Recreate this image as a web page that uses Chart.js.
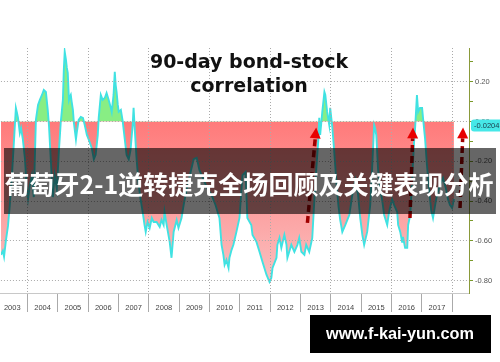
<!DOCTYPE html>
<html><head><meta charset="utf-8">
<script src="https://cdn.jsdelivr.net/npm/chart.js@4.4.0/dist/chart.umd.min.js"></script>
<style>html,body{margin:0;padding:0;background:#fff;overflow:hidden}canvas{display:block}</style>
</head><body>
<canvas id="c" width="500" height="362"></canvas>
<script>
// ---- data (decimal years, 90-day bond-stock correlation) ----
const years = [
2003.13,2003.19,2003.23,2003.29,2003.36,2003.42,2003.49,2003.56,2003.62,2003.65,2003.69,2003.75,2003.79,2003.85,2003.92,2003.98,
2004.02,2004.08,2004.15,2004.21,2004.28,2004.35,2004.41,2004.48,2004.54,2004.61,2004.67,2004.71,2004.77,2004.84,2004.90,2004.97,
2005.04,2005.10,2005.17,2005.20,2005.23,2005.27,2005.30,2005.33,2005.37,2005.40,2005.43,2005.46,2005.50,2005.53,2005.60,2005.63,2005.69,2005.76,2005.83,2005.89,2005.96,
2006.02,2006.12,2006.19,2006.25,2006.32,2006.35,2006.42,2006.48,2006.55,2006.61,2006.68,2006.75,2006.78,2006.84,2006.88,2006.91,2006.94,2006.98,
2007.01,2007.08,2007.14,2007.21,2007.27,2007.34,2007.40,2007.47,2007.50,2007.54,2007.60,2007.67,2007.73,2007.80,2007.86,2007.90,2007.96,
2008.03,2008.10,2008.16,2008.26,2008.36,2008.42,2008.49,2008.52,2008.59,2008.69,2008.75,2008.82,2008.92,2008.98,
2009.08,2009.15,2009.25,2009.38,2009.48,2009.58,2009.67,2009.81,2009.94,
2010.07,2010.20,2010.30,2010.33,2010.40,2010.46,2010.50,2010.56,2010.63,2010.66,2010.73,2010.79,2010.89,2010.99,
2011.09,2011.19,2011.25,2011.38,2011.42,2011.55,2011.65,2011.75,2011.88,2011.98,
2012.04,2012.08,2012.21,2012.24,2012.31,2012.37,2012.47,2012.54,2012.57,2012.70,2012.80,2012.90,2012.96,
2013.03,2013.13,2013.19,2013.29,2013.39,2013.46,2013.52,2013.59,2013.62,2013.65,2013.72,2013.79,2013.82,2013.88,2013.95,2013.98,
2014.05,2014.11,2014.18,2014.25,2014.31,2014.38,2014.48,2014.61,2014.71,2014.81,2014.90,2014.97,
2015.04,2015.10,2015.20,2015.30,2015.36,2015.43,2015.46,2015.50,2015.56,2015.63,2015.69,2015.76,2015.86,2015.92,
2016.02,2016.09,2016.19,2016.22,2016.29,2016.35,2016.38,2016.45,2016.52,2016.55,2016.62,2016.68,2016.75,2016.78,2016.84,2016.88,2016.94,
2017.01,2017.04,2017.11,2017.17,2017.24,2017.31,2017.37,2017.44,2017.50,2017.60,2017.70,2017.80,2017.86,2017.93,
2018.00,2018.06
];
const correlation = [
-0.67,-0.65,-0.68,-0.60,-0.525,-0.42,-0.27,-0.09,0.068,0.048,0.018,-0.058,-0.033,-0.09,-0.19,-0.34,
-0.39,-0.32,-0.27,-0.38,0.008,0.083,0.108,0.133,0.158,0.148,0.058,-0.018,-0.19,-0.38,-0.27,-0.34,
-0.143,-0.003,0.108,0.259,0.35,0.31,0.269,0.244,0.108,0.123,0.133,0.098,0.058,-0.003,-0.09,-0.053,0.008,0.023,0.018,-0.018,-0.068,
-0.09,-0.133,-0.19,-0.168,-0.068,0.018,0.133,0.108,0.118,0.143,0.108,0.068,0.048,0.133,0.249,0.183,0.148,0.083,
0.048,0.058,0.003,-0.09,-0.168,-0.19,-0.143,-0.018,0.068,-0.043,-0.19,-0.32,-0.39,-0.455,-0.52,-0.555,-0.505,
-0.535,-0.485,-0.505,-0.505,-0.53,-0.495,-0.52,-0.455,-0.52,-0.605,-0.685,-0.555,-0.495,-0.535,
-0.485,-0.42,-0.34,-0.254,-0.19,-0.183,-0.244,-0.294,-0.34,
-0.369,-0.42,-0.47,-0.485,-0.62,-0.67,-0.72,-0.696,-0.736,-0.685,-0.645,-0.62,-0.555,-0.485,
-0.27,-0.254,-0.485,-0.52,-0.57,-0.605,-0.655,-0.706,-0.77,-0.806,
-0.786,-0.736,-0.685,-0.62,-0.585,-0.635,-0.57,-0.62,-0.685,-0.62,-0.655,-0.62,-0.585,
-0.655,-0.67,-0.62,-0.655,-0.585,-0.39,-0.244,-0.09,0.018,-0.068,0.048,0.148,0.133,0.048,-0.018,0.068,
-0.028,-0.143,-0.294,-0.42,-0.495,-0.555,-0.52,-0.47,-0.369,-0.294,-0.369,-0.485,
-0.57,-0.62,-0.555,-0.42,-0.244,-0.018,-0.033,-0.068,-0.244,-0.34,-0.39,-0.47,-0.52,-0.455,
-0.39,-0.42,-0.455,-0.52,-0.555,-0.605,-0.58,-0.635,-0.635,-0.52,-0.47,-0.294,-0.09,-0.033,0.133,0.048,0.068,
0.068,0.018,-0.09,-0.219,-0.34,-0.445,-0.485,-0.42,-0.369,-0.32,-0.284,-0.34,-0.39,-0.42,
-0.435,-0.39
];
const yearLabels = ['2003','2004','2005','2006','2007','2008','2009','2010','2011','2012','2013','2014','2015','2016','2017'];
const yTickValues = [-0.8,-0.7,-0.6,-0.5,-0.4,-0.3,-0.2,-0.1,0,0.1,0.2,0.3];
const titleLines = ['90-day bond-stock','correlation'];
const lastValue = -0.0204;
const lastValueLabel = '-0.0204';
const arrowFrom = [[2013.23,-0.51],[2016.61,-0.485],[2018.26,-0.435]];
const arrowTo   = [[2013.52,-0.03],[2016.71,-0.03],[2018.36,-0.03]];
const bannerText = '葡萄牙2-1逆转捷克全场回顾及关键表现分析';
const watermarkText = 'www.f-kai-yun.com';

// ---- x ticks: label ticks at mid-year, separators at year boundaries ----
const xTickValues = [];
yearLabels.forEach(l => { const yr = +l; xTickValues.push(yr + 0.5, yr + 1); });

const isInt = v => Math.abs(v - Math.round(v)) < 1e-6;

function roundRect(ctx, x, y, w, h, r) {
  ctx.beginPath();
  ctx.moveTo(x + r, y); ctx.lineTo(x + w - r, y); ctx.quadraticCurveTo(x + w, y, x + w, y + r);
  ctx.lineTo(x + w, y + h - r); ctx.quadraticCurveTo(x + w, y + h, x + w - r, y + h);
  ctx.lineTo(x + r, y + h); ctx.quadraticCurveTo(x, y + h, x, y + h - r);
  ctx.lineTo(x, y + r); ctx.quadraticCurveTo(x, y, x + r, y); ctx.closePath();
}

const overlay = {
  id: 'overlay',
  afterDraw(chart) {
    const ctx = chart.ctx, xs = chart.scales.x, ys = chart.scales.y;
    ctx.save();
    // arrows
    arrowFrom.forEach((p, i) => {
      const q = arrowTo[i];
      const x1 = xs.getPixelForValue(p[0]), y1 = ys.getPixelForValue(p[1]);
      const x2 = xs.getPixelForValue(q[0]), y2 = ys.getPixelForValue(q[1]);
      const ang = Math.atan2(y2 - y1, x2 - x1);
      const hl = 11, hw = 5.5;
      const bx = x2 - hl * Math.cos(ang), by = y2 - hl * Math.sin(ang);
      ctx.strokeStyle = '#a00000'; ctx.lineWidth = 3.5; ctx.setLineDash([7, 4]);
      ctx.beginPath(); ctx.moveTo(x1, y1); ctx.lineTo(bx, by); ctx.stroke();
      ctx.setLineDash([]);
      ctx.fillStyle = '#e80000';
      ctx.beginPath(); ctx.moveTo(x2, y2);
      ctx.lineTo(bx + hw * Math.sin(ang), by - hw * Math.cos(ang));
      ctx.lineTo(bx - hw * Math.sin(ang), by + hw * Math.cos(ang));
      ctx.closePath(); ctx.fill();
    });
    // last value label
    const ly = ys.getPixelForValue(lastValue);
    ctx.fillStyle = 'rgb(70,232,232)';
    roundRect(ctx, ys.left + 2, ly - 6, 34, 12, 3); ctx.fill();
    ctx.fillStyle = '#1b3b4b'; ctx.font = '7.5px "Liberation Sans"';
    ctx.textAlign = 'left'; ctx.textBaseline = 'middle';
    ctx.fillText(lastValueLabel, ys.left + 5, ly + 0.5);
    // title
    ctx.fillStyle = '#111'; ctx.font = 'bold 19px "DejaVu Sans"';
    ctx.textAlign = 'center'; ctx.textBaseline = 'alphabetic';
    ctx.fillText(titleLines[0], 249, 68);
    ctx.fillText(titleLines[1], 249, 92);
    // banner
    ctx.fillStyle = 'rgba(0,0,0,0.6)';
    ctx.fillRect(4, 148, 492, 66);
    ctx.fillStyle = '#fff'; ctx.font = 'bold 25px "Noto Sans CJK SC"';
    ctx.textAlign = 'center'; ctx.textBaseline = 'middle';
    ctx.fillText(bannerText, 249, 184);
    // watermark
    ctx.fillStyle = '#000'; ctx.fillRect(310, 315, 181, 38);
    ctx.fillStyle = '#fff'; ctx.font = 'bold 16.3px "Liberation Sans"';
    ctx.textAlign = 'center'; ctx.textBaseline = 'middle';
    ctx.fillText(watermarkText, 400, 335);
    ctx.restore();
  }
};

const ctx = document.getElementById('c').getContext('2d');
const chart = new Chart(ctx, {
  type: 'line',
  data: {
    datasets: [{
      data: years.map((x, i) => ({ x: x, y: correlation[i] })),
      borderColor: 'rgb(64,226,226)',
      borderWidth: 1.9,
      pointRadius: 0,
      tension: 0,
      fill: { target: 'origin', above: 'rgb(136,238,132)', below: 'rgb(255,128,128)' }
    }]
  },
  options: {
    responsive: false,
    animation: false,
    devicePixelRatio: 1,
    layout: { padding: { top: 48, bottom: 49, left: 0, right: 0 } },
    plugins: { legend: { display: false }, tooltip: { enabled: false }, title: { display: false } },
    scales: {
      x: {
        type: 'linear', min: 2003.128, max: 2018.556,
        afterBuildTicks: s => { s.ticks = xTickValues.map(v => ({ value: v })); },
        afterFit: s => { s.height = 20; },
        ticks: {
          autoSkip: false, maxRotation: 0, padding: -9, color: '#444',
          font: { family: '"Liberation Sans"', size: 7.5 },
          callback: v => isInt(v) ? '' : String(Math.floor(v))
        },
        grid: {
          z: 1,
          drawOnChartArea: true, drawTicks: true, tickLength: 19,
          color: c => (c.tick && isInt(c.tick.value) && Math.round(c.tick.value) % 2 === 0) ? '#aaa' : 'rgba(0,0,0,0)',
          tickColor: c => (c.tick && isInt(c.tick.value)) ? '#aaa' : 'rgba(0,0,0,0)',
          lineWidth: 1
        },
        border: { display: true, color: '#c8c8c8', width: 1, dash: [1, 2] }
      },
      y: {
        position: 'right', min: -0.862, max: 0.369,
        afterBuildTicks: s => { s.ticks = yTickValues.map(v => ({ value: v })); },
        afterFit: s => { s.width = 31; },
        ticks: {
          padding: 2, color: '#555',
          font: { family: '"Liberation Sans"', size: 7.5 },
          callback: v => { const k = Math.round(v * 10); return k % 2 === 0 ? (Math.abs(v) < 1e-9 ? 0 : v).toFixed(2) : ''; }
        },
        grid: {
          z: 1,
          drawOnChartArea: true, drawTicks: true, tickLength: 4,
          color: c => (c.tick && Math.round(c.tick.value * 10) % 2 === 0) ? '#aaa' : 'rgba(0,0,0,0)',
          tickColor: '#7a9a2a'
        },
        border: { display: true, color: '#8a9a3a', width: 1, dash: [1, 2] }
      }
    }
  },
  plugins: [overlay]
});

// gradient for the negative fill
const ysc = chart.scales.y;
const grad = chart.ctx.createLinearGradient(0, ysc.getPixelForValue(0), 0, ysc.getPixelForValue(-0.85));
grad.addColorStop(0, 'rgb(255,122,122)');
grad.addColorStop(1, 'rgb(250,196,196)');
chart.data.datasets[0].fill.below = grad;
chart.update('none');
</script>
</body></html>
